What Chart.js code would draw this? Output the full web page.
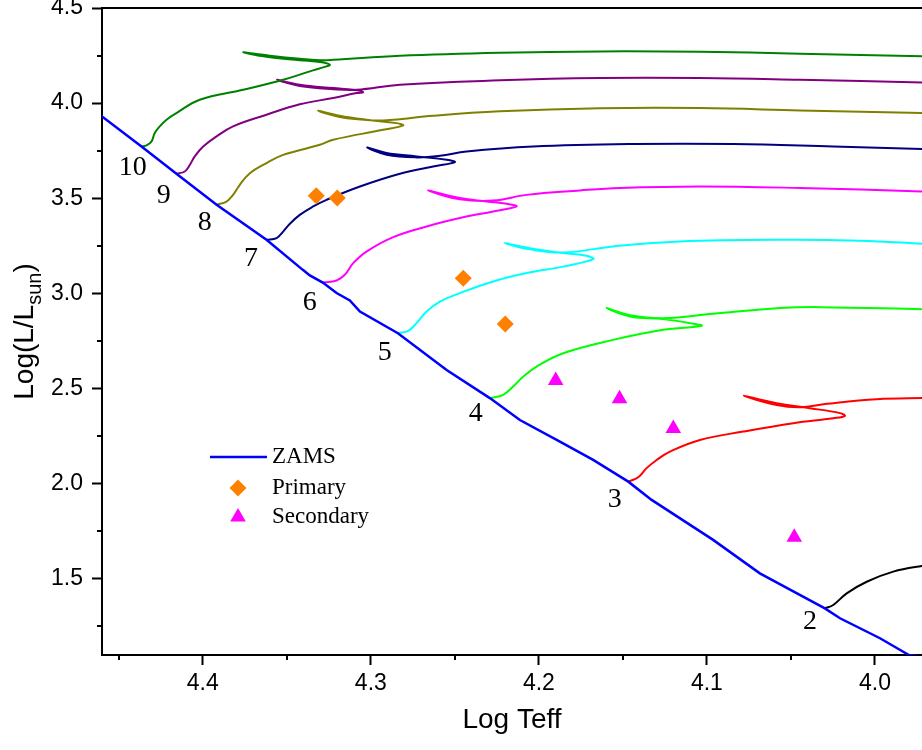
<!DOCTYPE html>
<html>
<head>
<meta charset="utf-8">
<script src="https://cdn.jsdelivr.net/npm/chart.js@4.4.1/dist/chart.umd.min.js"></script>
<style>
  body { margin: 0; background: #fff; }
  #wrap { width: 922px; height: 750px; }
</style>
</head>
<body>
<div id="wrap"><canvas id="hrChart" width="922" height="750"></canvas></div>
<script>
// axis ticks
const xTicks = [4.4, 4.3, 4.2, 4.1, 4.0];
const xMinorTicks = [4.45, 4.35, 4.25, 4.15, 4.05];
const yTicks = [1.5, 2.0, 2.5, 3.0, 3.5, 4.0, 4.5];
const yMinorTicks = [1.25, 1.75, 2.25, 2.75, 3.25, 3.75, 4.25];

// [Log Teff, Log L/Lsun]
const zams = [[4.47,3.997],[4.460,3.930],[4.4365,3.772],[4.4157,3.629],[4.3918,3.466],[4.3621,3.282],[4.3405,3.124],[4.3363,3.095],[4.3286,3.057],[4.3204,3.002],[4.3125,2.963],[4.3065,2.905],[4.2839,2.791],[4.2549,2.598],[4.2292,2.450],[4.2113,2.335],[4.1875,2.221],[4.1677,2.125],[4.1468,2.011],[4.1329,1.915],[4.0963,1.705],[4.0685,1.529],[4.0298,1.345],[4.0208,1.293],[3.9970,1.188],[3.9798,1.100],[3.97,1.09]];

const primary = [[4.3325,3.513],[4.320,3.501],[4.245,3.080],[4.220,2.840]];
const secondary = [[4.190,2.543],[4.152,2.446],[4.120,2.290],[4.048,1.719]];

const track10 = [[4.4365,3.772],[4.4335,3.778],[4.4305,3.799],[4.4286,3.843],[4.4256,3.878],[4.4216,3.913],[4.4157,3.948],[4.4018,4.018],[4.376,4.070],[4.3522,4.123],[4.3363,4.167],[4.3264,4.193],[4.3244,4.202],[4.3292,4.215],[4.3423,4.226],[4.3601,4.241],[4.376,4.267],[4.3601,4.249],[4.3423,4.233],[4.3304,4.226],[4.3224,4.228],[4.2827,4.249],[4.2232,4.265],[4.1637,4.272],[4.1042,4.270],[4.0446,4.260],[3.972,4.246],[3.955,4.239]];
const track9 = [[4.4157,3.629],[4.4107,3.641],[4.4077,3.676],[4.4048,3.720],[4.3998,3.772],[4.3918,3.825],[4.382,3.878],[4.3621,3.939],[4.3423,3.994],[4.3224,4.027],[4.3085,4.053],[4.3046,4.058],[4.3105,4.070],[4.3224,4.079],[4.3423,4.097],[4.3558,4.123],[4.3423,4.090],[4.3224,4.073],[4.3085,4.070],[4.2827,4.097],[4.2232,4.120],[4.1637,4.132],[4.1042,4.132],[4.0446,4.123],[3.972,4.109],[3.955,4.102]];
const track8 = [[4.3918,3.466],[4.3859,3.483],[4.382,3.518],[4.378,3.571],[4.372,3.632],[4.3621,3.685],[4.3522,3.728],[4.3304,3.781],[4.3224,3.808],[4.2927,3.860],[4.2808,3.883],[4.2847,3.895],[4.3026,3.913],[4.3185,3.934],[4.3314,3.960],[4.3185,3.927],[4.2986,3.909],[4.2867,3.913],[4.2629,3.934],[4.2232,3.957],[4.1637,3.973],[4.1042,3.974],[4.0446,3.962],[3.972,3.948],[3.955,3.942]];
const track7 = [[4.3621,3.282],[4.3561,3.291],[4.3522,3.325],[4.3482,3.366],[4.3423,3.413],[4.3343,3.457],[4.3264,3.492],[4.3065,3.562],[4.2827,3.629],[4.2629,3.667],[4.25,3.690],[4.2549,3.702],[4.2728,3.720],[4.2907,3.738],[4.3022,3.767],[4.2907,3.729],[4.2728,3.715],[4.2589,3.723],[4.243,3.746],[4.2034,3.772],[4.1439,3.785],[4.0843,3.785],[4.0248,3.772],[3.972,3.759],[3.955,3.752]];
const track6 = [[4.3284,3.057],[4.3204,3.068],[4.3155,3.098],[4.3105,3.159],[4.3026,3.220],[4.2867,3.296],[4.2668,3.352],[4.247,3.396],[4.2272,3.431],[4.2133,3.457],[4.2192,3.471],[4.2311,3.483],[4.247,3.501],[4.2659,3.541],[4.247,3.495],[4.2272,3.488],[4.2073,3.518],[4.1756,3.541],[4.1518,3.554],[4.1042,3.562],[4.0446,3.554],[3.972,3.536],[3.955,3.529]];
const track5 = [[4.2837,2.791],[4.2778,2.803],[4.2728,2.844],[4.2668,2.905],[4.2589,2.957],[4.247,3.002],[4.2272,3.063],[4.2073,3.107],[4.1855,3.141],[4.1677,3.180],[4.1716,3.198],[4.1855,3.212],[4.2054,3.238],[4.2202,3.264],[4.2054,3.232],[4.1855,3.215],[4.1558,3.247],[4.1161,3.273],[4.0526,3.282],[4.0089,3.277],[3.972,3.261],[3.955,3.253]];
const track4 = [[4.2292,2.450],[4.2213,2.467],[4.2153,2.511],[4.2093,2.563],[4.2014,2.616],[4.1855,2.686],[4.1558,2.756],[4.126,2.809],[4.1032,2.830],[4.1101,2.844],[4.126,2.865],[4.1458,2.879],[4.1597,2.923],[4.1458,2.886],[4.126,2.870],[4.0963,2.893],[4.0565,2.923],[4.0327,2.928],[3.972,2.917],[3.955,2.914]];
const track3 = [[4.1468,2.011],[4.1409,2.034],[4.1359,2.082],[4.1299,2.125],[4.122,2.169],[4.1042,2.230],[4.0784,2.274],[4.0486,2.318],[4.0248,2.344],[4.0179,2.356],[4.0208,2.371],[4.0387,2.397],[4.0585,2.423],[4.078,2.462],[4.0585,2.414],[4.0446,2.402],[4.0287,2.420],[3.999,2.444],[3.972,2.450],[3.955,2.451]];
const track2 = [[4.0298,1.345],[4.0248,1.363],[4.0168,1.424],[4.0049,1.485],[3.9891,1.538],[3.972,1.568],[3.955,1.589]];

const tracks = [track10, track9, track8, track7, track6, track5, track4, track3, track2];
const masses = ['10', '9', '8', '7', '6', '5', '4', '3', '2'];
// where each mass number sits (Log Teff, Log L)
const massLabelTeff = [4.4417, 4.4232, 4.3988, 4.3714, 4.3363, 4.2917, 4.2375, 4.1548, 4.0387];
const massLabelLum = [3.660, 3.513, 3.371, 3.182, 2.951, 2.688, 2.367, 1.915, 1.273];

const trackColors = ['#008000', '#800080', '#808000', '#000080', '#FF00FF', '#00FFFF', '#00FF00', '#FF0000', '#000000'];
const zamsColor = '#0000FF';
const primaryColor = '#FF8000';
const secondaryColor = '#FF00FF';

const sans = '"Liberation Sans", Arial, sans-serif';
const serif = '"Liberation Serif", "Times New Roman", serif';

const pts = arr => arr.map(([x, y]) => ({x: x, y: y}));

function diamond(ctx, x, y, r) {
    ctx.beginPath();
    ctx.moveTo(x, y - r); ctx.lineTo(x + r, y); ctx.lineTo(x, y + r); ctx.lineTo(x - r, y);
    ctx.closePath(); ctx.fill();
}
function triangle(ctx, x, y, r) {
    ctx.beginPath();
    ctx.moveTo(x, y - r);
    ctx.lineTo(x + r * Math.sin(2 * Math.PI / 3), y - r * Math.cos(2 * Math.PI / 3));
    ctx.lineTo(x - r * Math.sin(2 * Math.PI / 3), y - r * Math.cos(2 * Math.PI / 3));
    ctx.closePath(); ctx.fill();
}

const decorations = {
    id: 'decorations',
    afterDraw(chart) {
        const ctx = chart.ctx;
        const a = chart.chartArea;
        const xs = chart.scales.x, ys = chart.scales.y;
        ctx.save();

        // top frame
        ctx.strokeStyle = '#000';
        ctx.lineWidth = 2;
        ctx.beginPath();
        ctx.moveTo(a.left - 1, a.top);
        ctx.lineTo(a.right, a.top);
        ctx.stroke();

        // minor ticks
        ctx.beginPath();
        xMinorTicks.forEach(v => {
            const px = Math.round(xs.getPixelForValue(v));
            ctx.moveTo(px, a.bottom);
            ctx.lineTo(px, a.bottom + 5);
        });
        yMinorTicks.forEach(v => {
            const py = Math.round(ys.getPixelForValue(v));
            ctx.moveTo(a.left, py);
            ctx.lineTo(a.left - 5, py);
        });
        ctx.stroke();

        // mass numbers
        ctx.fillStyle = '#000';
        ctx.font = '28px ' + serif;
        ctx.textAlign = 'center';
        ctx.textBaseline = 'middle';
        masses.forEach((m, i) => {
            ctx.fillText(m, xs.getPixelForValue(massLabelTeff[i]), ys.getPixelForValue(massLabelLum[i]));
        });

        // x title
        ctx.font = '28px ' + sans;
        ctx.textBaseline = 'alphabetic';
        ctx.fillText('Log Teff', (a.left + a.right) / 2, 728);

        // y title with subscript
        ctx.save();
        ctx.translate(33, (a.top + a.bottom) / 2);
        ctx.rotate(-Math.PI / 2);
        ctx.textAlign = 'left';
        ctx.font = '28px ' + sans;
        const w1 = ctx.measureText('Log(L/L').width;
        const w3 = ctx.measureText(')').width;
        ctx.font = '20px ' + sans;
        const w2 = ctx.measureText('sun').width;
        let sx = -(w1 + w2 + w3) / 2;
        ctx.font = '28px ' + sans;
        ctx.fillText('Log(L/L', sx, 0);
        ctx.font = '20px ' + sans;
        ctx.fillText('sun', sx + w1, 8);
        ctx.font = '28px ' + sans;
        ctx.fillText(')', sx + w1 + w2, 0);
        ctx.restore();

        // legend
        ctx.textAlign = 'left';
        ctx.textBaseline = 'middle';
        ctx.font = '23px ' + serif;
        ctx.strokeStyle = zamsColor;
        ctx.lineWidth = 2.5;
        ctx.beginPath();
        ctx.moveTo(210, 457);
        ctx.lineTo(267, 457);
        ctx.stroke();
        ctx.fillStyle = '#000';
        ctx.fillText('ZAMS', 272, 457);
        ctx.fillStyle = primaryColor;
        diamond(ctx, 238, 488, 8.5);
        ctx.fillStyle = '#000';
        ctx.fillText('Primary', 272, 488);
        ctx.fillStyle = secondaryColor;
        triangle(ctx, 238, 517, 9);
        ctx.fillStyle = '#000';
        ctx.fillText('Secondary', 272, 517);

        ctx.restore();
    }
};

const datasets = [
    {
        label: 'Primary',
        data: pts(primary),
        showLine: false,
        pointStyle: 'rectRot',
        pointRadius: 8.5,
        pointBackgroundColor: primaryColor,
        pointBorderWidth: 0
    },
    {
        label: 'Secondary',
        data: pts(secondary),
        showLine: false,
        pointStyle: 'triangle',
        pointRadius: 9,
        pointBackgroundColor: secondaryColor,
        pointBorderWidth: 0
    },
    {
        label: 'ZAMS',
        data: pts(zams),
        showLine: true,
        borderColor: zamsColor,
        borderWidth: 2.5,
        pointRadius: 0,
        tension: 0
    }
];
tracks.forEach((t, i) => {
    datasets.push({
        label: masses[i] + ' Msun',
        data: pts(t),
        showLine: true,
        borderColor: trackColors[i],
        borderWidth: 2,
        pointRadius: 0,
        tension: 0.4
    });
});

Chart.defaults.color = '#000';
Chart.defaults.font.family = sans;

new Chart(document.getElementById('hrChart'), {
    type: 'scatter',
    data: { datasets: datasets },
    plugins: [decorations],
    options: {
        responsive: false,
        animation: false,
        events: [],
        layout: { autoPadding: false, padding: { top: 8, left: 0, right: 0, bottom: 0 } },
        plugins: {
            legend: { display: false },
            tooltip: { enabled: false }
        },
        scales: {
            x: {
                type: 'linear',
                reverse: true,
                min: 3.972,
                max: 4.46,
                afterBuildTicks: s => { s.ticks = xTicks.map(v => ({ value: v })); },
                afterFit: s => { s.height = 95; s.paddingLeft = 0; s.paddingRight = 0; },
                ticks: {
                    font: { size: 23 },
                    padding: 5,
                    maxRotation: 0,
                    callback: v => v.toFixed(1)
                },
                grid: {
                    drawOnChartArea: false,
                    drawTicks: true,
                    tickLength: 10,
                    tickWidth: 2,
                    tickColor: '#000'
                },
                border: { color: '#000', width: 2 }
            },
            y: {
                type: 'linear',
                min: 1.1,
                max: 4.5,
                afterBuildTicks: s => { s.ticks = yTicks.map(v => ({ value: v })); },
                afterFit: s => { s.width = 102; s.paddingTop = 0; s.paddingBottom = 0; },
                ticks: {
                    font: { size: 23 },
                    padding: 9,
                    callback: v => v.toFixed(1)
                },
                grid: {
                    drawOnChartArea: false,
                    drawTicks: true,
                    tickLength: 10,
                    tickWidth: 2,
                    tickColor: '#000'
                },
                border: { color: '#000', width: 2 }
            }
        }
    }
});
</script>
</body>
</html>
